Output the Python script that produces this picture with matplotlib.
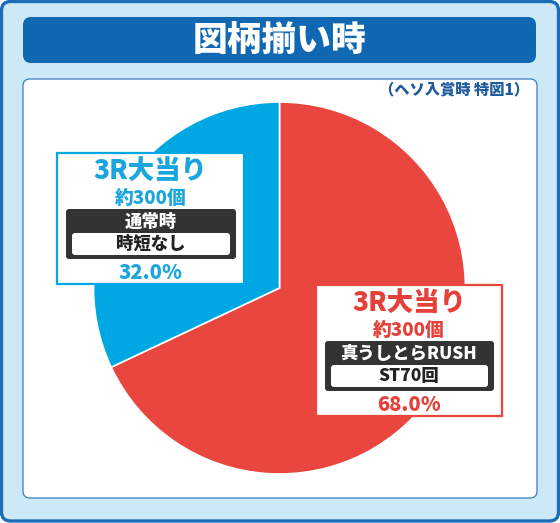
import matplotlib
matplotlib.use('Agg')
import matplotlib.pyplot as plt
from matplotlib.patches import FancyBboxPatch, Rectangle

plt.rcParams['font.family'] = ['Noto Sans CJK JP', 'DejaVu Sans']

# データ
shares = [68.0, 32.0]
rounds = ['3R大当り', '3R大当り']
payouts = ['約300個', '約300個']
modes = ['真うしとらRUSH', '通常時']
subs = ['ST70回', '時短なし']
colors = ['#e8463f', '#00a8e3']
text_colors = ['#e5413a', '#1aa5dc']
title = '図柄揃い時'
note = '（ヘソ入賞時 特図1）'

W, H = 560, 523
fig = plt.figure(figsize=(W / 100, H / 100), dpi=100)

# 背景
bg = fig.add_axes([0, 0, 1, 1])
bg.set_xlim(0, W)
bg.set_ylim(H, 0)
bg.axis('off')

def rbox(ax, x0, y0, x1, y1, fc, ec='none', lw=0, r=8, z=1):
    p = FancyBboxPatch((x0, y0), x1 - x0, y1 - y0,
                       boxstyle=f'round,pad=0,rounding_size={r}',
                       fc=fc, ec=ec, lw=lw, zorder=z)
    ax.add_patch(p)

rbox(bg, 1.5, 1.5, 558.5, 521, '#cde9f8', '#1a6db8', 2.4, r=9)
rbox(bg, 23, 17, 536, 63, '#1068b2', r=8, z=2)
bg.text(279.5, 41, title, color='white', fontsize=25, fontweight='heavy',
        ha='center', va='center', zorder=3)
rbox(bg, 23, 79, 537, 498, 'white', '#3a7cc2', 0.9, r=7, z=2)
bg.text(529, 90, note, color='#1f5c9e', fontsize=11, fontweight='heavy',
        ha='right', va='center', zorder=3)

# 円グラフ
cx, cy, R = 279.5, 288, 186
pie_ax = fig.add_axes([(cx - R) / W, (H - cy - R) / H, 2 * R / W, 2 * R / H])
pie_ax.pie(shares, colors=colors, startangle=90, counterclock=False,
           wedgeprops=dict(edgecolor='white', linewidth=1.2))
pie_ax.set_xlim(-1, 1)
pie_ax.set_ylim(-1, 1)
pie_ax.axis('off')

# ラベル
ov = fig.add_axes([0, 0, 1, 1])
ov.set_xlim(0, W)
ov.set_ylim(H, 0)
ov.axis('off')
ov.patch.set_visible(False)

boxes = [(316, 285, 502), (57, 153, 244)]
for i, (x0, y0, x1) in enumerate(boxes):
    xc = (x0 + x1) / 2
    tc = text_colors[i]
    ov.add_patch(Rectangle((x0, y0), x1 - x0, 131, fc='white', ec=colors[i], lw=1.6))
    ov.text(xc, y0 + 19, rounds[i], color=tc, fontsize=19, fontweight='heavy',
            ha='center', va='center')
    ov.text(xc, y0 + 45, payouts[i], color=tc, fontsize=13.5, fontweight='heavy',
            ha='center', va='center')
    rbox(ov, x0 + 9, y0 + 56, x1 - 8, y0 + 106, '#333333', r=3, z=2)
    ov.text(xc, y0 + 69, modes[i], color='white', fontsize=12.5, fontweight='heavy',
            ha='center', va='center', zorder=3)
    rbox(ov, x0 + 15, y0 + 80, x1 - 14, y0 + 102, 'white', r=3, z=3)
    ov.text(xc, y0 + 91, subs[i], color='#222222', fontsize=12.5, fontweight='heavy',
            ha='center', va='center', zorder=4)
    ov.text(xc, y0 + 120, f'{shares[i]:.1f}%', color=tc, fontsize=14.5, fontweight='heavy',
            ha='center', va='center')

fig.savefig('out.png', dpi=100)
